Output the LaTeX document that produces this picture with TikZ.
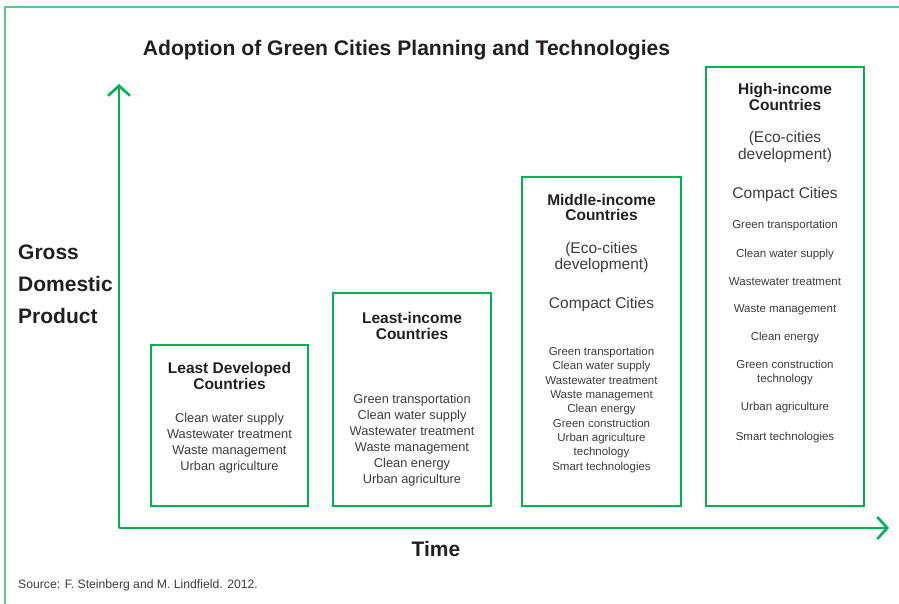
\documentclass[tikz,border=0pt]{standalone}
\usepackage{fontspec}
\setmainfont{Liberation Sans}
\usetikzlibrary{arrows.meta}
\definecolor{boxgreen}{RGB}{0,178,80}
\definecolor{framegreen}{RGB}{85,200,140}
\definecolor{headtext}{RGB}{35,31,32}
\definecolor{itemtext}{RGB}{60,60,60}
\tikzset{
  gbox/.style={draw=boxgreen, line width=2.6pt, anchor=north west, inner sep=0pt, outer sep=0pt},
  axis/.style={draw=boxgreen, line width=2.6pt, -{Straight Barb[length=10pt,width=22pt,line width=2.6pt]}},
  boxhead/.style={anchor=base, inner sep=0pt, text=headtext, font=\fontsize{15.5}{17}\selectfont\bfseries},
  boxsub/.style={anchor=base, inner sep=0pt, text=itemtext, font=\fontsize{15.5}{17}\selectfont},
  itembig/.style={anchor=base, inner sep=0pt, text=itemtext, font=\fontsize{12.8}{15}\selectfont},
  itemsmall/.style={anchor=base, inner sep=0pt, text=itemtext, font=\fontsize{11.5}{13}\selectfont},
  bigbold/.style={inner sep=0pt, text=headtext, font=\fontsize{21}{24}\selectfont\bfseries},
}
\begin{document}
\begin{tikzpicture}[x=1pt,y=-1pt]
\useasboundingbox (0,0) rectangle (899,604);
% outer frame
\draw[framegreen, line width=1.6pt] (5,604) -- (5,7) -- (899,7);
% title
\node[bigbold, font=\fontsize{21.1}{24}\selectfont\bfseries, anchor=base] (title) at (406.5,55.5) {Adoption of Green Cities Planning and Technologies};
% axes
\coordinate (origin) at (119,528);
\coordinate (ytop) at (119,84);
\coordinate (xend) at (889,528);
\draw[axis] (origin) -- (ytop);
\draw[axis] (origin) -- (xend);
\node[bigbold, anchor=base west] (gdp1) at (18,259) {Gross};
\node[bigbold, anchor=base west] (gdp2) at (18,291) {Domestic};
\node[bigbold, anchor=base west] (gdp3) at (18,323) {Product};
\node[bigbold, anchor=base] (time) at (436,556) {Time};
\node[anchor=base west, inner sep=0pt, text=itemtext, font=\fontsize{12.2}{14}\selectfont] (src) at (18,588) {Source: F. Steinberg and M. Lindfield. 2012.};
% boxes
\node[gbox, minimum width=157pt, minimum height=161pt] (b1) at (151,345) {};
\node[gbox, minimum width=158pt, minimum height=213pt] (b2) at (333,293) {};
\node[gbox, minimum width=159pt, minimum height=329pt] (b3) at (522,177) {};
\node[gbox, minimum width=158pt, minimum height=439pt] (b4) at (706,67) {};
% box 1
\node[boxhead] (b1h1) at (229.5,373) {Least Developed};
\node[boxhead] (b1h2) at (229.5,389) {Countries};
\foreach \yy/\lbl [count=\i] in {422/Clean water supply,438/Wastewater treatment,454/Waste management,470/Urban agriculture}
  \node[itembig] (b1i\i) at (229.5,\yy) {\lbl};
% box 2
\node[boxhead] (b2h1) at (412,323) {Least-income};
\node[boxhead] (b2h2) at (412,339) {Countries};
\foreach \yy/\lbl [count=\i] in {403/Green transportation,419/Clean water supply,435/Wastewater treatment,451/Waste management,467/Clean energy,483/Urban agriculture}
  \node[itembig] (b2i\i) at (412,\yy) {\lbl};
% box 3
\node[boxhead] (b3h1) at (601.5,205) {Middle-income};
\node[boxhead] (b3h2) at (601.5,221) {Countries};
\node[boxsub] (b3s1) at (601.5,253) {(Eco-cities};
\node[boxsub] (b3s2) at (601.5,269) {development)};
\node[boxsub] (b3c) at (601.5,308) {Compact Cities};
\foreach \yy/\lbl [count=\i] in {355/Green transportation,369/Clean water supply,384/Wastewater treatment,398/Waste management,412/Clean energy,427/Green construction,441/Urban agriculture,455/technology,470/Smart technologies}
  \node[itemsmall] (b3i\i) at (601.5,\yy) {\lbl};
% box 4
\node[boxhead] (b4h1) at (785,95) {High-income};
\node[boxhead] (b4h2) at (785,111) {Countries};
\node[boxsub] (b4s1) at (785,143) {(Eco-cities};
\node[boxsub] (b4s2) at (785,160) {development)};
\node[boxsub] (b4c) at (785,199) {Compact Cities};
\foreach \yy/\lbl [count=\i] in {229/Green transportation,257/Clean water supply,285/Wastewater treatment,312/Waste management,340/Clean energy,368/Green construction,382/technology,410/Urban agriculture,440/Smart technologies}
  \node[itemsmall] (b4i\i) at (785,\yy) {\lbl};
\end{tikzpicture}
\end{document}
